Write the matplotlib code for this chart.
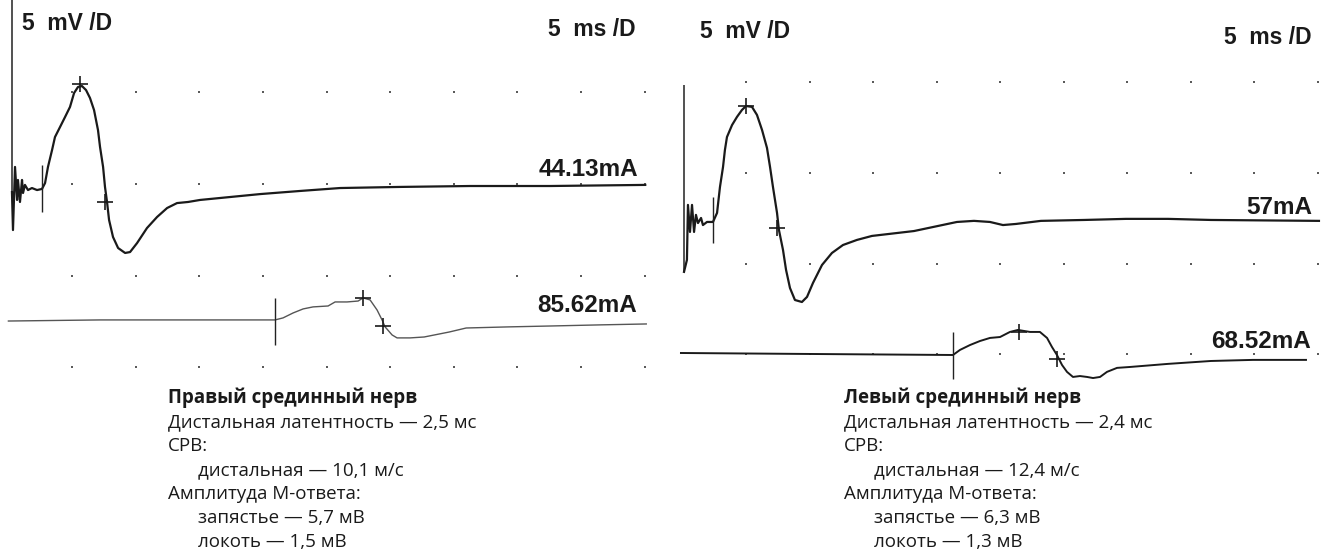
import matplotlib.pyplot as plt

W, H = 1322, 553

# Right median nerve (left panel). Time in ms, amplitude in mV
left_top_t = [0.28, 0.36, 0.52, 0.68, 0.75, 0.91, 1.07, 1.15, 1.30, 1.54, 1.85, 2.25, 2.64,
              2.88, 3.11, 3.43, 3.66, 4.06, 4.45, 4.84, 5.16, 5.47, 5.78, 6.10, 6.41, 6.73,
              7.04, 7.20, 7.44, 7.59, 7.75, 7.91, 8.22, 8.62, 9.17, 9.56, 10.11, 10.89,
              11.68, 12.47, 13.25, 14.12, 15.06, 17.42, 19.78, 22.92, 26.06, 30.78, 36.28,
              42.57, 50.04]
left_top_v = [-0.44, -2.51, 0.93, -0.87, 0.22, -0.98, 0.22, -0.49, -0.05, -0.33, -0.22, -0.33,
              -0.27, 0.05, 0.93, 1.85, 2.56, 3.11, 3.65, 4.20, 4.96, 5.29, 5.34, 5.12, 4.69,
              4.03, 2.94, 2.02, 0.93, -0.16, -0.98, -1.96, -2.89, -3.49, -3.76, -3.71, -3.22,
              -2.40, -1.80, -1.31, -1.04, -0.98, -0.87, -0.71, -0.55, -0.38, -0.22, -0.16,
              -0.11, -0.11, -0.05]
left_bot_t = [0.0, 7.20, 15.06, 20.95, 21.58, 22.37, 23.16, 23.94, 25.12, 25.67, 26.61, 27.48,
              27.87, 28.42, 28.97, 29.36, 29.60, 30.15, 30.54, 31.56, 32.67, 34.63, 35.97,
              39.27, 42.65, 46.50, 50.12]
left_bot_v = [-7.47, -7.41, -7.41, -7.41, -7.30, -7.03, -6.81, -6.70, -6.65, -6.43, -6.43,
              -6.38, -6.21, -6.32, -6.87, -7.41, -7.79, -8.23, -8.39, -8.39, -8.34, -8.07,
              -7.85, -7.79, -7.74, -7.68, -7.63]
left_cross_t = [5.63, 7.59, 27.87, 29.44]
left_cross_v = [5.45, -0.98, -6.21, -7.74]
left_stim = [(2.64, -1.53, 1.04), (20.95, -8.77, -6.21)]
left_axis = (0.28, -0.44, 10.03)

# Left median nerve (right panel)
right_top_t = [0.12, 0.35, 0.43, 0.59, 0.75, 0.91, 1.06, 1.22, 1.46, 1.61, 1.93, 2.40, 2.72,
               2.95, 3.19, 3.34, 3.50, 3.90, 4.29, 4.68, 5.00, 5.47, 5.86, 6.26, 6.65, 6.89,
               7.12, 7.44, 7.59, 7.91, 8.15, 8.46, 8.85, 9.40, 9.80, 10.27, 10.98, 11.76,
               12.63, 13.73, 14.91, 18.22, 21.60, 22.94, 24.20, 25.22, 26.24, 28.21, 31.60,
               34.90, 38.21, 41.59, 50.09]
right_top_v = [-5.45, -4.79, -1.76, -3.25, -1.76, -3.25, -2.31, -2.76, -2.48, -2.87, -2.70,
               -2.70, -2.20, -0.77, 0.33, 1.27, 1.98, 2.64, 3.09, 3.47, 3.69, 3.64, 3.20, 2.37,
               1.38, 0.33, -0.77, -2.20, -3.14, -4.24, -5.34, -6.34, -7.00, -7.11, -6.83,
               -6.06, -5.07, -4.41, -3.97, -3.69, -3.47, -3.20, -2.70, -2.64, -2.70, -2.87,
               -2.81, -2.64, -2.59, -2.53, -2.53, -2.59, -2.64]
right_bot_t = [-0.12, 9.25, 21.29, 21.84, 22.63, 23.41, 24.20, 24.99, 25.77, 26.40, 27.35,
               28.13, 28.69, 29.08, 29.47, 29.87, 30.26, 30.73, 31.28, 31.84, 32.31, 32.86,
               33.41, 34.20, 35.22, 38.21, 41.59, 44.90, 49.07]
right_bot_v = [-9.92, -9.97, -10.03, -9.75, -9.48, -9.26, -9.09, -9.04, -8.76, -8.65, -8.76,
               -8.76, -9.09, -9.59, -10.03, -10.58, -10.96, -11.24, -11.19, -11.24, -11.30,
               -11.24, -10.96, -10.74, -10.69, -10.52, -10.36, -10.30, -10.30]
right_cross_t = [5.00, 7.44, 26.48, 29.47]
right_cross_v = [3.69, -3.03, -8.76, -10.25]
right_stim = [(2.40, -3.86, -1.32), (21.29, -11.35, -8.76)]
right_axis = (0.12, -5.45, 4.85)

grid_t = [5, 10, 15, 20, 25, 30, 35, 40, 45, 50]
grid_v = [5, 0, -5, -10]

left_caption = ["Правый срединный нерв", "Дистальная латентность — 2,5 мс", "СРВ:",
                "дистальная — 10,1 м/с", "Амплитуда М-ответа:", "запястье — 5,7 мВ",
                "локоть — 1,5 мВ"]
right_caption = ["Левый срединный нерв", "Дистальная латентность — 2,4 мс", "СРВ:",
                 "дистальная — 12,4 м/с", "Амплитуда М-ответа:", "запястье — 6,3 мВ",
                 "локоть — 1,3 мВ"]
indented = [False, False, False, True, False, True, True]

fig = plt.figure(figsize=(W / 100, H / 100), dpi=100)
fig.patch.set_facecolor("white")


def px(x, y):  # pixel position -> figure fraction
    return x / W, 1 - y / H


def panel(x0, x1, y1, xlim, ylim):
    ax = fig.add_axes([x0 / W, 1 - y1 / H, (x1 - x0) / W, y1 / H])
    ax.set_xlim(*xlim)
    ax.set_ylim(*ylim)
    ax.axis("off")
    return ax


def draw(ax, top_t, top_v, bot_t, bot_v, cross_t, cross_v, stim, axis_line, bot_color, bot_lw):
    gt = [t for v in grid_v for t in grid_t]
    gv = [v for v in grid_v for t in grid_t]
    ax.scatter(gt, gv, s=3, marker="s", color="#5a5a5a", linewidths=0, clip_on=False, zorder=1)
    ax.vlines(axis_line[0], axis_line[1], axis_line[2], color="#222222", lw=1.1, zorder=2)
    ax.plot(top_t, top_v, color="#1a1a1a", lw=1.6, solid_joinstyle="round", zorder=3)
    ax.plot(bot_t, bot_v, color=bot_color, lw=bot_lw, solid_joinstyle="round", zorder=3)
    for t, lo, hi in stim:
        ax.vlines(t, lo, hi, color="#222222", lw=1.0, zorder=3)
    ax.plot(cross_t, cross_v, ls="none", marker="+", ms=11, mew=1.2, color="#1a1a1a", zorder=4)


ax_l = panel(0, 660, 390, (-0.66, 51.2), (-11.23, 10.03))
draw(ax_l, left_top_t, left_top_v, left_bot_t, left_bot_v, left_cross_t, left_cross_v,
     left_stim, left_axis, "#555555", 1.0)

ax_r = panel(660, 1322, 400, (-1.77, 50.33), (-12.51, 9.53))
draw(ax_r, right_top_t, right_top_v, right_bot_t, right_bot_v, right_cross_t, right_cross_v,
     right_stim, right_axis, "#1a1a1a", 1.4)

scr = dict(family="Liberation Sans", weight="bold", color="#1a1a1a", va="center")
fig.text(*px(22, 24), "5  mV /D", ha="left", fontsize=16.5, **scr)
fig.text(*px(636, 30), "5  ms /D", ha="right", fontsize=16.5, **scr)
fig.text(*px(638, 169), "44.13mA", ha="right", fontsize=17.5, **scr)
fig.text(*px(637, 305), "85.62mA", ha="right", fontsize=17.5, **scr)
fig.text(*px(700, 32), "5  mV /D", ha="left", fontsize=16.5, **scr)
fig.text(*px(1312, 38), "5  ms /D", ha="right", fontsize=16.5, **scr)
fig.text(*px(1312, 207), "57mA", ha="right", fontsize=17.5, **scr)
fig.text(*px(1311, 342), "68.52mA", ha="right", fontsize=17.5, **scr)

line_y = [398, 422, 446, 470, 494, 518, 542]
for x0, lines in [(168, left_caption), (844, right_caption)]:
    for i, (txt, ind) in enumerate(zip(lines, indented)):
        fig.text(*px(x0 + (30 if ind else 0), line_y[i]), txt, ha="left", va="center",
                 fontsize=13.5, family="Open Sans", weight="bold" if i == 0 else "normal",
                 color="#1a1a1a")

fig.savefig("out.png", dpi=100, facecolor="white")
